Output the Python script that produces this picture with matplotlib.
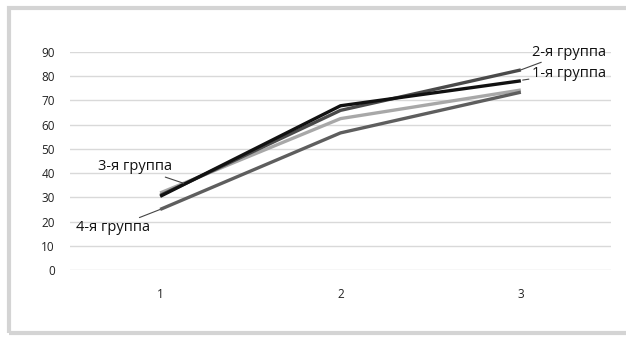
import matplotlib.pyplot as plt
from matplotlib.patches import Rectangle

plt.rcParams['font.family'] = ['Open Sans', 'DejaVu Sans']

periods = [1, 2, 3]
group1 = [30.4, 67.8, 78.1]
group2 = [30.8, 65.9, 82.6]
group3 = [31.8, 62.5, 74.3]
group4 = [25.0, 56.6, 73.4]
names = ['1-я группа', '2-я группа', '3-я группа', '4-я группа']
yticks = list(range(0, 100, 10))

fig = plt.figure(figsize=(6.26, 3.38), dpi=100)
fig.patches.append(Rectangle((9 / 626, 5 / 338), 1.0, 325 / 338, transform=fig.transFigure,
                             fill=False, edgecolor='#d4d4d4', linewidth=3))
ax = fig.add_axes([70 / 626, 68 / 338, 541 / 626, 218 / 338])

ax.plot(periods, group3, color='#a8a8a8', lw=2.4, solid_capstyle='butt')
ax.plot(periods, group4, color='#5e5e5e', lw=2.4, solid_capstyle='butt')
ax.plot(periods, group2, color='#4a4a4a', lw=2.4, solid_capstyle='butt')
ax.plot(periods, group1, color='#111111', lw=2.4, solid_capstyle='butt')

ax.set_xlim(0.5, 3.5)
ax.set_ylim(0, 90)
ax.set_yticks(yticks)
ax.set_xticks(periods)
ax.yaxis.grid(True, color='#d9d9d9', lw=1)
ax.set_axisbelow(True)
for s in ax.spines.values():
    s.set_visible(False)
ax.tick_params(length=0, labelsize=8.5, colors='#222222')
ax.tick_params(axis='x', pad=13)
ax.tick_params(axis='y', pad=11)

# leader lines from each series to its name
lead = dict(arrowstyle='-', color='#444444', lw=0.8, shrinkA=0, shrinkB=0)
fs = 10.5
ax.annotate(names[1], xy=(3, group2[2]), xytext=(3.06, 90), fontsize=fs,
            va='center', ha='left', color='#111111', arrowprops=lead, annotation_clip=False)
ax.annotate(names[0], xy=(3.01, group1[2] + 0.3), xytext=(3.06, 81.3), fontsize=fs,
            va='center', ha='left', color='#111111', arrowprops=lead, annotation_clip=False)
ax.annotate(names[2], xy=(1.13, 35.8), xytext=(1.065, 39.5), fontsize=fs,
            va='bottom', ha='right', color='#111111', arrowprops=lead)
ax.annotate(names[3], xy=(1.0, group4[0]), xytext=(0.945, 17.4), fontsize=fs,
            va='center', ha='right', color='#111111', arrowprops=lead)

fig.savefig('out.png', dpi=100)
